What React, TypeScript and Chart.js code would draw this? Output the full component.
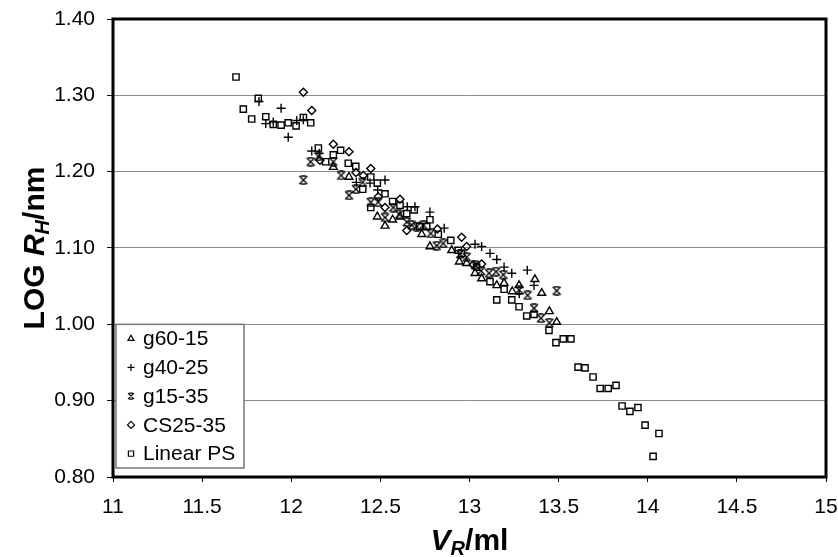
import React, { useEffect, useRef } from 'react';
import { Chart, registerables } from 'chart.js';

Chart.register(...registerables);

// ---------- data ----------
const X_MIN = 11;
const X_MAX = 15;
const X_STEP = 0.5;
const Y_MIN = 0.8;
const Y_MAX = 1.4;
const Y_STEP = 0.1;

const SERIES_NAMES = ['g60-15', 'g40-25', 'g15-35', 'CS25-35', 'Linear PS'];

const g60_15_x = [12.236, 12.324, 12.483, 12.526, 12.569, 12.61, 12.732, 12.778, 12.9, 12.943, 12.984, 13.031, 13.068, 13.153, 13.194, 13.24, 13.278, 13.367, 13.405, 13.448, 13.489];
const g60_15_y = [1.206, 1.193, 1.141, 1.129, 1.137, 1.141, 1.118, 1.102, 1.097, 1.082, 1.08, 1.067, 1.06, 1.051, 1.054, 1.043, 1.051, 1.059, 1.041, 1.017, 1.003];

const g40_25_x = [11.819, 11.857, 11.899, 11.943, 11.983, 12.031, 12.068, 12.115, 12.157, 12.365, 12.442, 12.485, 12.526, 12.651, 12.694, 12.778, 12.858, 13.031, 13.068, 13.115, 13.153, 13.194, 13.237, 13.324, 13.362, 13.279];
const g40_25_y = [1.292, 1.263, 1.265, 1.283, 1.245, 1.267, 1.268, 1.227, 1.224, 1.186, 1.185, 1.176, 1.189, 1.154, 1.154, 1.147, 1.126, 1.105, 1.102, 1.093, 1.085, 1.075, 1.067, 1.071, 1.051, 1.04];

const g15_35_x = [12.068, 12.109, 12.152, 12.236, 12.28, 12.324, 12.363, 12.4, 12.446, 12.488, 12.526, 12.572, 12.606, 12.648, 12.676, 12.704, 12.741, 12.782, 12.816, 12.853, 12.947, 12.984, 13.031, 13.065, 13.11, 13.149, 13.19, 13.279, 13.326, 13.362, 13.401, 13.448, 13.489];
const g15_35_y = [1.189, 1.213, 1.22, 1.213, 1.195, 1.169, 1.177, 1.186, 1.16, 1.16, 1.14, 1.153, 1.144, 1.134, 1.13, 1.128, 1.13, 1.119, 1.103, 1.106, 1.092, 1.088, 1.078, 1.07, 1.067, 1.069, 1.065, 1.045, 1.038, 1.021, 1.008, 1.002, 1.044];

const cs25_35_x = [12.068, 12.115, 12.161, 12.236, 12.324, 12.363, 12.404, 12.446, 12.488, 12.526, 12.61, 12.648, 12.82, 12.956, 12.984, 13.021, 13.068];
const cs25_35_y = [1.304, 1.28, 1.215, 1.236, 1.226, 1.199, 1.195, 1.204, 1.167, 1.153, 1.164, 1.123, 1.125, 1.114, 1.102, 1.078, 1.079];

const linearPS_x = [11.69, 11.731, 11.778, 11.815, 11.857, 11.899, 11.943, 11.983, 12.027, 12.068, 12.109, 12.152, 12.193, 12.236, 12.277, 12.32, 12.362, 12.401, 12.446, 12.483, 12.526, 12.446, 12.569, 12.61, 12.648, 12.69, 12.72, 12.76, 12.778, 12.825, 12.895, 12.937, 12.956, 13.04, 13.115, 13.153, 13.194, 13.237, 13.278, 13.321, 13.362, 13.446, 13.485, 13.526, 13.569, 13.609, 13.648, 13.693, 13.733, 13.778, 13.822, 13.856, 13.9, 13.945, 13.985, 14.03, 14.063];
const linearPS_y = [1.324, 1.282, 1.269, 1.296, 1.272, 1.262, 1.261, 1.264, 1.26, 1.271, 1.264, 1.231, 1.213, 1.222, 1.228, 1.211, 1.207, 1.177, 1.193, 1.185, 1.171, 1.153, 1.161, 1.156, 1.145, 1.15, 1.128, 1.128, 1.137, 1.118, 1.11, 1.097, 1.093, 1.075, 1.056, 1.032, 1.046, 1.032, 1.023, 1.011, 1.013, 0.992, 0.976, 0.981, 0.981, 0.944, 0.943, 0.931, 0.916, 0.916, 0.92, 0.893, 0.886, 0.891, 0.868, 0.827, 0.857];

const FONT = "'Liberation Sans', Arial, Helvetica, sans-serif";

const zip = (xs: number[], ys: number[]) => xs.map((x, i) => ({ x, y: ys[i] }));

function makeStar(size: number, lw: number): HTMLCanvasElement {
  const c = document.createElement('canvas');
  c.width = size;
  c.height = size;
  const ctx = c.getContext('2d')!;
  ctx.strokeStyle = '#000';
  ctx.lineWidth = lw;
  const a = 1;
  const b = size - 1;
  const m = size / 2;
  ctx.beginPath();
  ctx.moveTo(a, a);
  ctx.lineTo(b, b);
  ctx.moveTo(b, a);
  ctx.lineTo(a, b);
  ctx.moveTo(m - 2.5, a);
  ctx.lineTo(m + 2.5, a);
  ctx.moveTo(m - 2.5, b);
  ctx.lineTo(m + 2.5, b);
  ctx.stroke();
  return c;
}

function drawMarker(ctx: CanvasRenderingContext2D, kind: string, x: number, y: number, r: number) {
  ctx.save();
  ctx.strokeStyle = '#000';
  ctx.lineWidth = 1.2;
  ctx.beginPath();
  if (kind === 'triangle') {
    ctx.moveTo(x, y - r);
    ctx.lineTo(x + r * 0.866, y + r * 0.5);
    ctx.lineTo(x - r * 0.866, y + r * 0.5);
    ctx.closePath();
  } else if (kind === 'cross') {
    ctx.moveTo(x - r, y);
    ctx.lineTo(x + r, y);
    ctx.moveTo(x, y - r);
    ctx.lineTo(x, y + r);
  } else if (kind === 'star') {
    const s = r * 0.85;
    ctx.moveTo(x - s, y - s);
    ctx.lineTo(x + s, y + s);
    ctx.moveTo(x + s, y - s);
    ctx.lineTo(x - s, y + s);
    ctx.moveTo(x - 1.8, y - s);
    ctx.lineTo(x + 1.8, y - s);
    ctx.moveTo(x - 1.8, y + s);
    ctx.lineTo(x + 1.8, y + s);
  } else if (kind === 'rectRot') {
    ctx.moveTo(x, y - r);
    ctx.lineTo(x + r, y);
    ctx.lineTo(x, y + r);
    ctx.lineTo(x - r, y);
    ctx.closePath();
  } else {
    const s = r * 0.75;
    ctx.rect(x - s, y - s, 2 * s, 2 * s);
  }
  ctx.stroke();
  ctx.restore();
}

const LEGEND_KINDS = ['triangle', 'cross', 'star', 'rectRot', 'rect'];

const legendPlugin = {
  id: 'boxLegend',
  afterDatasetsDraw(chart: any) {
    const { ctx, chartArea, scales } = chart;
    const left = chartArea.left + 3;
    const top = scales.y.getPixelForValue(1.0);
    const right = left + 128;
    const bottom = chartArea.bottom - 9;
    ctx.save();
    ctx.fillStyle = '#fff';
    ctx.fillRect(left, top, right - left, bottom - top);
    ctx.strokeStyle = '#777';
    ctx.lineWidth = 1.5;
    ctx.strokeRect(left, top, right - left, bottom - top);
    const h = (bottom - top) / SERIES_NAMES.length;
    SERIES_NAMES.forEach((name, i) => {
      const cy = top + h * (i + 0.5);
      drawMarker(ctx, LEGEND_KINDS[i], left + 15, cy, 3.5);
      ctx.fillStyle = '#000';
      ctx.font = `21px ${FONT}`;
      ctx.textBaseline = 'middle';
      ctx.textAlign = 'left';
      ctx.fillText(name, left + 27, cy + 1);
    });
    ctx.restore();
  },
};

type Part = { text: string; font: string; dy: number };

function drawParts(ctx: CanvasRenderingContext2D, parts: Part[], cx: number, baseline: number) {
  let total = 0;
  parts.forEach((p) => {
    ctx.font = p.font;
    total += ctx.measureText(p.text).width;
  });
  let x = cx - total / 2;
  parts.forEach((p) => {
    ctx.font = p.font;
    ctx.fillText(p.text, x, baseline + p.dy);
    x += ctx.measureText(p.text).width;
  });
}

const titlePlugin = {
  id: 'richTitles',
  afterDraw(chart: any) {
    const { ctx, chartArea } = chart;
    const S = 30;
    const SS = 20;
    ctx.save();
    ctx.fillStyle = '#000';
    ctx.textBaseline = 'alphabetic';
    ctx.textAlign = 'left';
    // x title
    const xParts: Part[] = [
      { text: 'V', font: `italic bold ${S}px ${FONT}`, dy: 0 },
      { text: 'R', font: `italic bold ${SS}px ${FONT}`, dy: 5 },
      { text: '/ml', font: `bold ${S}px ${FONT}`, dy: 0 },
    ];
    drawParts(ctx, xParts, (chartArea.left + chartArea.right) / 2, chartArea.bottom + 62 + S * 0.358);
    // y title
    ctx.translate(chartArea.left - 80, (chartArea.top + chartArea.bottom) / 2);
    ctx.rotate(-Math.PI / 2);
    const yParts: Part[] = [
      { text: 'LOG ', font: `bold ${S}px ${FONT}`, dy: 0 },
      { text: 'R', font: `italic bold ${S}px ${FONT}`, dy: 0 },
      { text: 'H', font: `italic bold ${SS}px ${FONT}`, dy: 5 },
      { text: '/nm', font: `bold ${S}px ${FONT}`, dy: 0 },
    ];
    drawParts(ctx, yParts, 0, S * 0.358);
    ctx.restore();
  },
};

const framePlugin = {
  id: 'frame',
  afterDraw(chart: any) {
    const { ctx, chartArea } = chart;
    ctx.save();
    ctx.strokeStyle = '#000';
    ctx.lineWidth = 3;
    ctx.strokeRect(chartArea.left, chartArea.top, chartArea.right - chartArea.left, chartArea.bottom - chartArea.top);
    ctx.restore();
  },
};

export default function App() {
  const ref = useRef<HTMLCanvasElement | null>(null);

  useEffect(() => {
    if (!ref.current) return;
    const star = makeStar(10, 1.3);
    const base = {
      showLine: false,
      borderColor: '#000',
      backgroundColor: 'rgba(0,0,0,0)',
      pointBackgroundColor: 'rgba(0,0,0,0)',
      pointBorderColor: '#000',
      pointBorderWidth: 1.4,
    };
    const chart = new Chart(ref.current, {
      type: 'scatter',
      data: {
        datasets: [
          { ...base, label: SERIES_NAMES[0], data: zip(g60_15_x, g60_15_y), pointStyle: 'triangle', pointRadius: 4.5 },
          { ...base, label: SERIES_NAMES[1], data: zip(g40_25_x, g40_25_y), pointStyle: 'cross', pointRadius: 4.5 },
          { ...base, label: SERIES_NAMES[2], data: zip(g15_35_x, g15_35_y), pointStyle: star as any, pointRadius: 4.5 },
          { ...base, label: SERIES_NAMES[3], data: zip(cs25_35_x, cs25_35_y), pointStyle: 'rectRot', pointRadius: 4 },
          { ...base, label: SERIES_NAMES[4], data: zip(linearPS_x, linearPS_y), pointStyle: 'rect', pointRadius: 4.4 },
        ],
      },
      options: {
        animation: false,
        responsive: false,
        maintainAspectRatio: false,
        layout: { autoPadding: false, padding: { left: 0, right: 12, top: 19, bottom: 0 } },
        plugins: {
          legend: { display: false },
          tooltip: { enabled: false },
          title: { display: false },
        },
        scales: {
          x: {
            type: 'linear',
            min: X_MIN,
            max: X_MAX,
            afterFit: (s: any) => {
              s.height = 80;
              s.paddingLeft = 0;
              s.paddingRight = 0;
            },
            ticks: {
              stepSize: X_STEP,
              color: '#000',
              font: { size: 21, family: FONT },
              padding: 13,
              maxRotation: 0,
              autoSkip: false,
              callback: (v: any) => String(Math.round(Number(v) * 10) / 10),
            },
            grid: { drawOnChartArea: false, color: '#000', tickColor: '#000', tickLength: 5, lineWidth: 1 },
            border: { display: false },
          },
          y: {
            type: 'linear',
            min: Y_MIN,
            max: Y_MAX,
            afterFit: (s: any) => {
              s.width = 113;
              s.paddingTop = 0;
              s.paddingBottom = 0;
            },
            ticks: {
              stepSize: Y_STEP,
              color: '#000',
              font: { size: 21, family: FONT },
              padding: 12,
              callback: (v: any) => Number(v).toFixed(2),
            },
            grid: { color: '#8a8a8a', tickColor: '#000', tickLength: 6, lineWidth: 1 },
            border: { display: false },
          },
        },
      },
      plugins: [legendPlugin, titlePlugin, framePlugin],
    });
    return () => chart.destroy();
  }, []);

  return (
    <div style={{ position: 'absolute', left: 0, top: 0, width: 838, height: 557, background: '#fff' }}>
      <canvas ref={ref} width={838} height={557} style={{ width: 838, height: 557, display: 'block' }} />
    </div>
  );
}
